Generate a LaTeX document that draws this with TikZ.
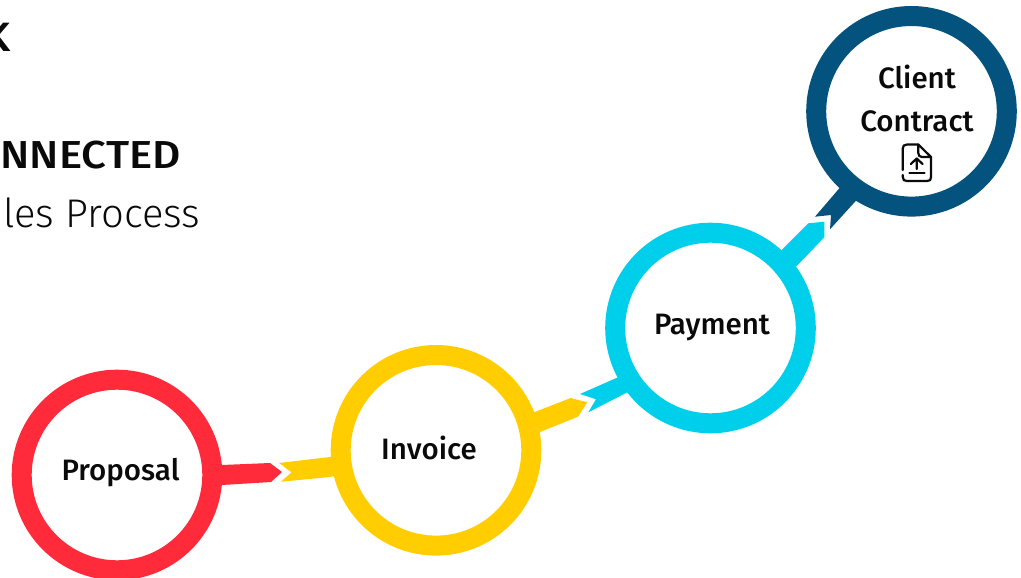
\documentclass[tikz,border=0pt]{standalone}
\usepackage{fontspec}
\setmainfont{Fira Sans}
\newfontfamily\labelfont{Fira Sans Medium}
\newfontfamily\headfont[FakeStretch=1.12]{Fira Sans Medium}
\newfontfamily\lightfont{Fira Sans Light}
\definecolor{redc}{HTML}{FF2A3A}
\definecolor{yelc}{HTML}{FFCD00}
\definecolor{cyac}{HTML}{00CFEB}
\definecolor{navc}{HTML}{04537F}
\definecolor{inkc}{HTML}{0A0A0A}
\tikzset{
  ringnode/.style={circle,draw=#1,fill=white,line width=20pt,minimum size=190.6pt,inner sep=0pt,outer sep=0pt},
  steplabel/.style={font=\labelfont\fontsize{29.5}{29.5}\selectfont,text=inkc,inner sep=0pt,anchor=center},
  iconline/.style={draw=inkc,line width=2.2pt,line cap=round,line join=round}
}
\begin{document}
\begin{tikzpicture}[x=1pt,y=-1pt]
\useasboundingbox (0,0) rectangle (1021,578);
\clip (0,0) rectangle (1021,578);
\coordinate (cp) at (117,475);
\coordinate (ci) at (436,450.3);
\coordinate (cy) at (710.5,328);
\coordinate (cn) at (911.5,111.3);
% connector arrows, starting under the rings
\fill[redc] (cp) -- (222,465) -- (270,463) -- (282,472) -- (271,482) -- (222,485) -- cycle;
\fill[yelc] (ci) -- (330,457) -- (279,463) -- (291.5,472.3) -- (281,481.7) -- (330,477) -- cycle;
\fill[yelc] (ci) -- (533,412.7) -- (570.7,398) -- (587.3,402.3) -- (578,416.7) -- (540,432) -- cycle;
\fill[cyac] (cy) -- (630,372) -- (580,394) -- (596,399.3) -- (588.3,412.3) -- (632,390) -- cycle;
\fill[cyac] (cy) -- (781.7,250) -- (808.3,223.3) -- (824.3,221.7) -- (824.3,237.3) -- (796.7,266) -- cycle;
\fill[navc] (cn) -- (839.3,188.3) -- (815,216.7) -- (831,215) -- (830,229.3) -- (855.7,201) -- cycle;
% rings
\node[ringnode=redc] (proposal) at (cp) {};
\node[ringnode=yelc] (invoice) at (ci) {};
\node[ringnode=cyac] (payment) at (cy) {};
\node[ringnode=navc] (client) at (cn) {};
% labels
\node[steplabel] (tproposal) at (120.5,473) {Proposal};
\node[steplabel] (tinvoice) at (429,447.5) {Invoice};
\node[steplabel] (tpayment) at (712,327.5) {Payment};
\node[steplabel] (tclient) at (917,76.5) {Client};
\node[steplabel] (tcontract) at (917,121) {Contract};
% icon
\path[iconline] (918.3,144.5) -- (907,144.5) .. controls (904,144.5) and (902.8,146) .. (902.8,148.5) -- (902.8,170);
\path[iconline] (902.8,175) -- (902.8,177) .. controls (902.8,180) and (904,181) .. (907,181) -- (927,181) .. controls (930,181) and (931,180) .. (931,177) -- (931,157) -- (918.3,144.5) -- (918.3,153) .. controls (918.3,155.5) and (919.5,157) .. (922,157) -- (931,157);
\path[iconline] (916.7,169) -- (916.7,158.5) (910.8,164) -- (916.7,158.5) -- (922.6,164);
\path[iconline] (909.5,173.3) -- (924.5,173.3);
% heading fragments cut by the left edge
\node[font=\headfont\fontsize{41}{41}\selectfont,text=inkc,inner sep=0pt,anchor=base east] (hk) at (10.5,52) {K};
\node[font=\headfont\fontsize{39}{39}\selectfont,text=inkc,inner sep=0pt,anchor=base east] (hconn) at (181,168) {NNECTED};
\node[font=\lightfont\fontsize{40}{40}\selectfont,text=inkc,inner sep=0pt,anchor=base east] (hsales) at (200.5,227) {les Process};
\end{tikzpicture}
\end{document}
